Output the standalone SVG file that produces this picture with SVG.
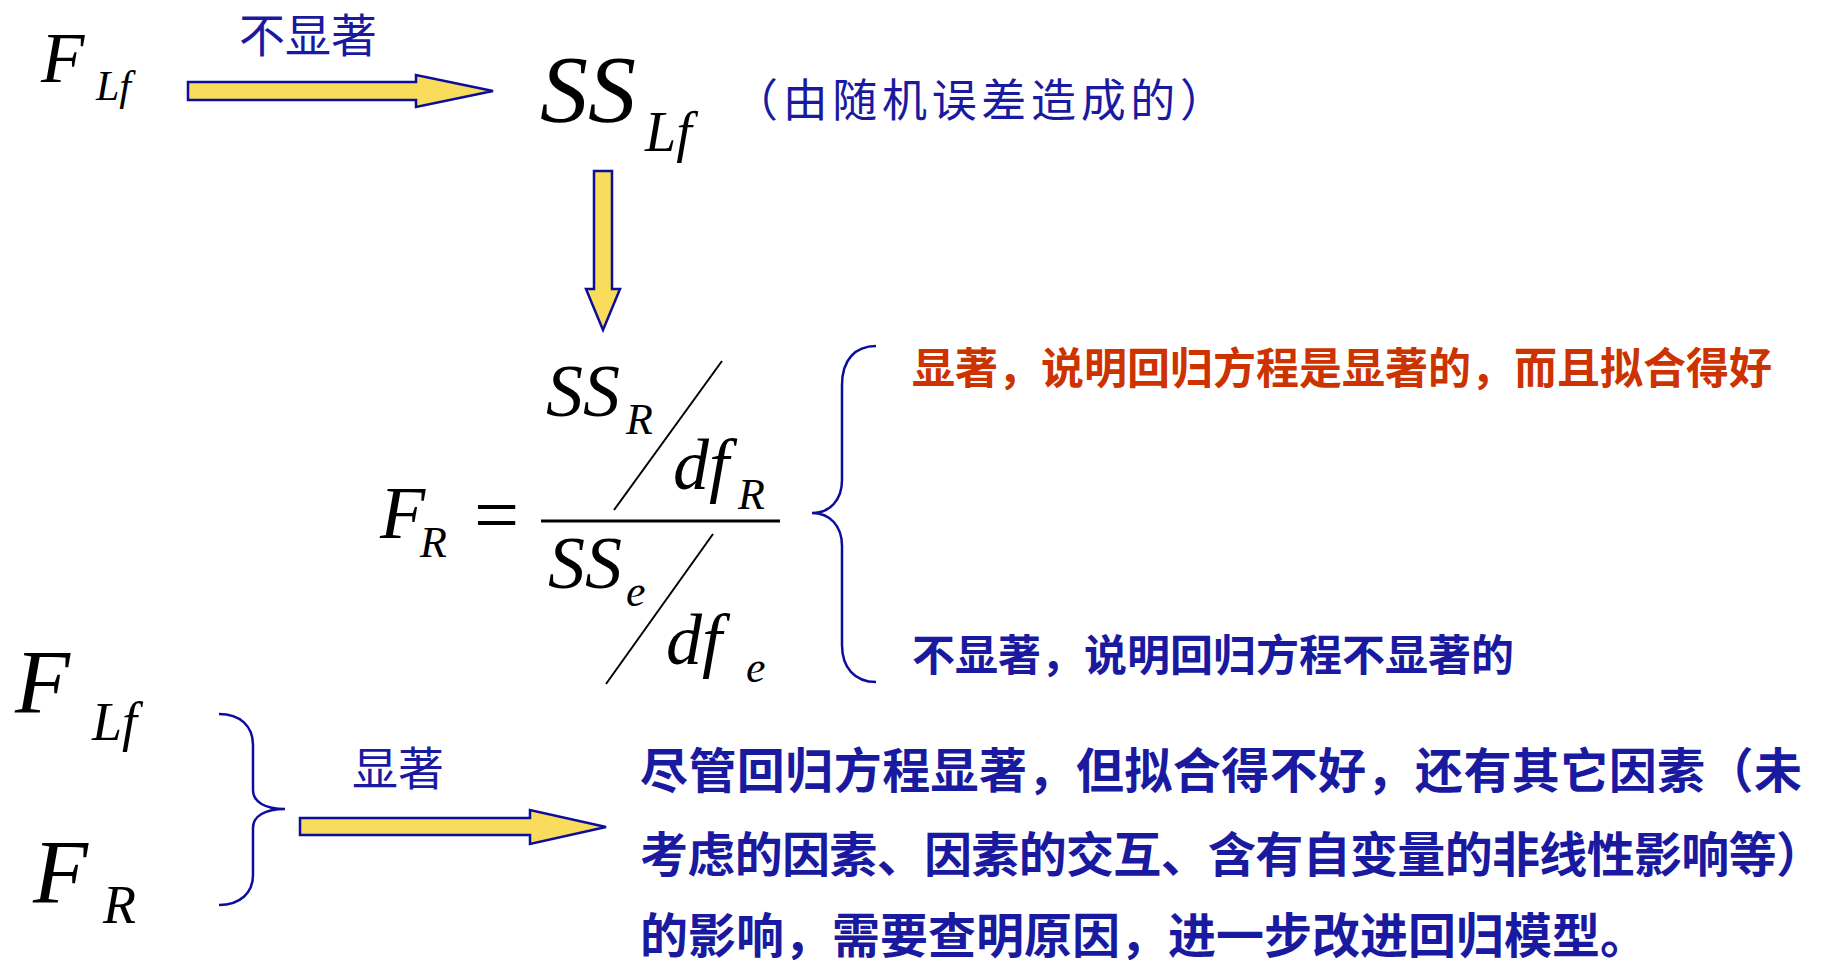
<svg xmlns="http://www.w3.org/2000/svg" width="1827" height="960" viewBox="0 0 1827 960">
<style>
.m{font-family:"Liberation Serif","Times New Roman",serif;font-style:italic;fill:#000}
.mn{font-family:"Liberation Serif","Times New Roman",serif;fill:#000}
.cj{font-family:"Noto Sans CJK SC",sans-serif;fill:#1a1aa0}
.cb{font-family:"Noto Sans CJK SC",sans-serif;font-weight:bold;fill:#1a1aa0}
.cr{font-family:"Noto Sans CJK SC",sans-serif;font-weight:bold;fill:#cc3300}
.arr{fill:#f9dc5c;stroke:#0d0d9c;stroke-width:2.5;stroke-linejoin:miter}
.br{fill:none;stroke:#0d0d9c;stroke-width:2.5}
.ln{stroke:#000;stroke-width:2;fill:none}
</style>
<rect width="1827" height="960" fill="#fff"/>
<g id="FLf_top">
<text class="m" x="41" y="82" font-size="71">F</text>
<text class="m" x="96" y="100" font-size="42">Lf</text>
</g>
<g id="SSLf">
<text class="m" x="540" y="122" font-size="96">SS</text>
<text class="m" x="645" y="151" font-size="56">Lf</text>
<text class="cj" x="733" y="117" font-size="45" textLength="492" lengthAdjust="spacing">（由随机误差造成的）</text>
</g>
<g id="formula">
<text class="m" x="380" y="538" font-size="74">F</text>
<text class="m" x="420" y="557" font-size="44">R</text>
<text class="mn" x="474" y="542" font-size="80">=</text>
<line x1="541" y1="521" x2="780" y2="521" stroke="#000" stroke-width="3"/>
<text class="m" x="546" y="416" font-size="74">SS</text>
<text class="m" x="626" y="434" font-size="44">R</text>
<line class="ln" x1="722" y1="361" x2="614" y2="510"/>
<text class="m" x="673" y="489" font-size="72">df</text>
<text class="m" x="738" y="509" font-size="44">R</text>
<text class="m" x="548" y="588" font-size="74">SS</text>
<text class="m" x="626" y="606" font-size="44">e</text>
<line class="ln" x1="713" y1="534" x2="606" y2="684"/>
<text class="m" x="666" y="664" font-size="72">df</text>
<text class="m" x="746" y="682" font-size="44">e</text>
</g>
<g id="outcome_sig">
<text class="cr" x="912" y="384" font-size="43">显著，说明回归方程是显著的，而且拟合得好</text>
</g>
<g id="outcome_nonsig">
<text class="cb" x="912" y="671" font-size="43">不显著，说明回归方程不显著的</text>
</g>
<g id="FLf_bottom">
<text class="m" x="15" y="713" font-size="90">F</text>
<text class="m" x="92" y="740" font-size="54">Lf</text>
</g>
<g id="FR_bottom">
<text class="m" x="33" y="903" font-size="90">F</text>
<text class="m" x="103" y="923" font-size="54">R</text>
</g>
<g id="conclusion">
<text class="cb" x="640" y="788" font-size="48" textLength="1162" lengthAdjust="spacing">尽管回归方程显著，但拟合得不好，还有其它因素（未</text>
<text class="cb" x="640" y="872" font-size="48" textLength="1184" lengthAdjust="spacing">考虑的因素、因素的交互、含有自变量的非线性影响等）</text>
<text class="cb" x="640" y="953" font-size="48">的影响，需要查明原因，进一步改进回归模型。</text>
</g>
<g id="connectors">
<text class="cj" x="239" y="52" font-size="46">不显著</text>
<path class="arr" d="M188,82 H416 V75 L493,91 L416,107 V100 H188 Z"/>
<path class="arr" d="M594,171 H612 V289 H620 L603,330 L586,289 H594 Z"/>
<path class="br" d="M876,346 C855,346 842,360 842,385 L842,480 C842,500 830,513 812,513 C830,513 842,526 842,546 L842,645 C842,668 855,682 876,682"/>
<path class="br" d="M219,714 C240,714 253,726 253,745 L253,790 C253,802 265,809 285,809 C265,809 253,816 253,828 L253,875 C253,893 240,905 219,905"/>
<text class="cj" x="352" y="785" font-size="46">显著</text>
<path class="arr" d="M300,818 H530 V810 L606,827 L530,844 V835 H300 Z"/>
</g>
</svg>
